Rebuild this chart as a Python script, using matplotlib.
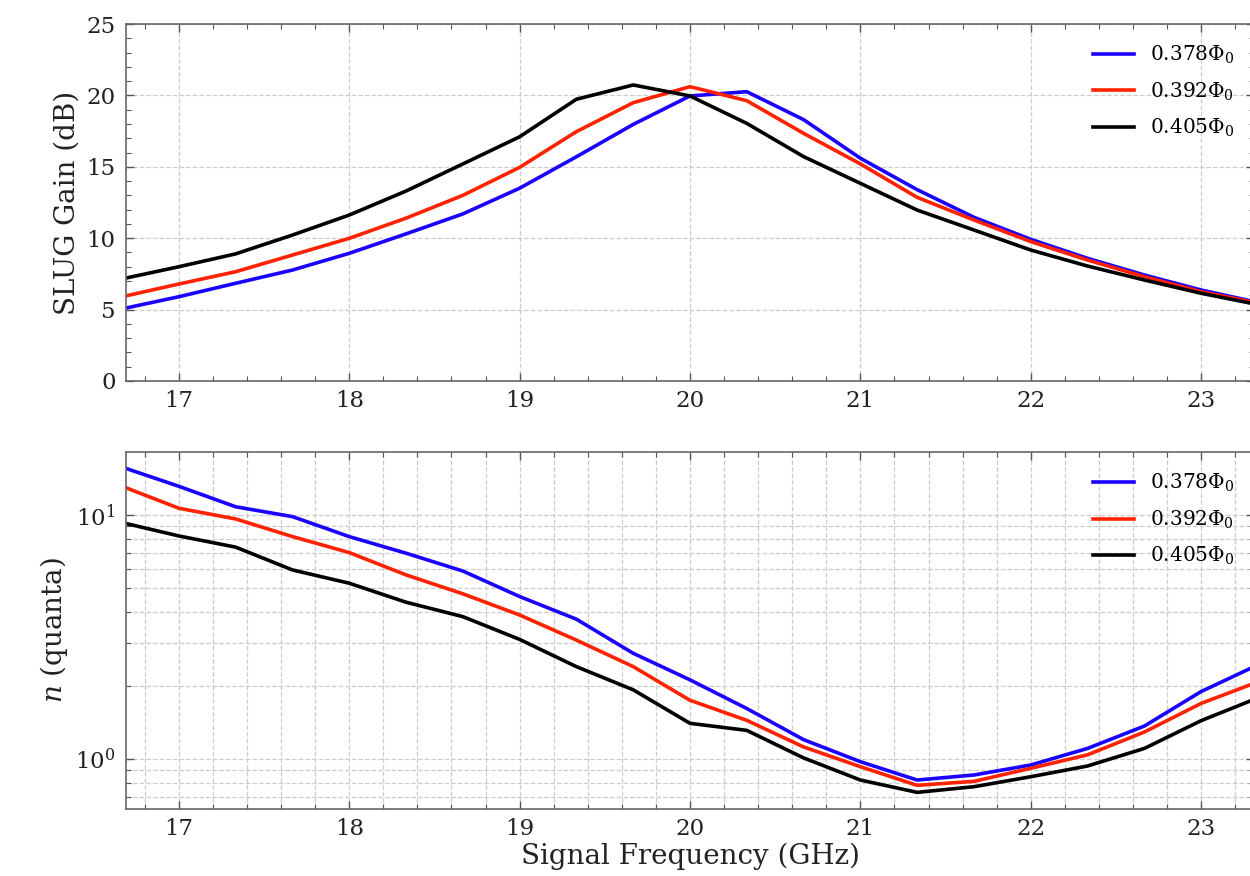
import numpy as np
import matplotlib
matplotlib.use("Agg")
import matplotlib.pyplot as plt
from matplotlib.ticker import MultipleLocator, LogLocator, NullFormatter

plt.rcParams['font.family'] = 'DejaVu Serif'
plt.rcParams['mathtext.fontset'] = 'dejavuserif'
plt.rcParams['font.size'] = 14

# signal frequency (GHz), steps of 1/3 GHz
freq = [16.667, 17.0, 17.333, 17.667, 18.0, 18.333, 18.667, 19.0, 19.333, 19.667, 20.0,
        20.333, 20.667, 21.0, 21.333, 21.667, 22.0, 22.333, 22.667, 23.0, 23.333]

labels = [r'0.378$\Phi_0$', r'0.392$\Phi_0$', r'0.405$\Phi_0$']
colors = ['#1a00ff', '#ff2200', 'black']

# SLUG gain (dB)
gain_378 = [5.05, 5.9, 6.84, 7.77, 8.94, 10.3, 11.7, 13.5, 15.7, 17.97, 19.96,
            20.26, 18.3, 15.6, 13.4, 11.46, 9.92, 8.59, 7.42, 6.37, 5.5]
gain_392 = [5.9, 6.79, 7.65, 8.82, 9.99, 11.4, 13.0, 14.96, 17.46, 19.49, 20.61,
            19.63, 17.34, 15.2, 12.86, 11.27, 9.76, 8.47, 7.3, 6.25, 5.45]
gain_405 = [7.15, 8.0, 8.9, 10.22, 11.62, 13.3, 15.2, 17.1, 19.73, 20.73, 19.96,
            18.04, 15.71, 13.84, 11.97, 10.57, 9.17, 8.05, 7.07, 6.14, 5.35]

# added noise n (quanta)
n_378 = [15.7, 13.1, 10.8, 9.84, 8.15, 6.97, 5.89, 4.63, 3.74, 2.71, 2.11,
         1.61, 1.2, 0.975, 0.82, 0.86, 0.945, 1.105, 1.365, 1.89, 2.43]
n_392 = [13.1, 10.65, 9.63, 8.15, 7.01, 5.68, 4.75, 3.89, 3.07, 2.39, 1.74,
         1.44, 1.12, 0.93, 0.78, 0.81, 0.916, 1.04, 1.29, 1.69, 2.07]
n_405 = [9.3, 8.2, 7.38, 5.95, 5.25, 4.39, 3.83, 3.09, 2.39, 1.92, 1.40,
         1.31, 1.01, 0.82, 0.73, 0.77, 0.846, 0.936, 1.105, 1.436, 1.78]

gains = [gain_378, gain_392, gain_405]
noises = [n_378, n_392, n_405]

fig = plt.figure(figsize=(12.5, 8.76), dpi=100)
ax1 = fig.add_axes([0.1008, 0.5651, 0.9024, 0.4075])
ax2 = fig.add_axes([0.1008, 0.0765, 0.9024, 0.4075])

for g, c, lab in zip(gains, colors, labels):
    ax1.plot(freq, g, color=c, lw=2.6, label=lab)
for n, c, lab in zip(noises, colors, labels):
    ax2.plot(freq, n, color=c, lw=2.6, label=lab)

for ax in (ax1, ax2):
    ax.set_xlim(16.69, 23.31)
    ax.xaxis.set_major_locator(MultipleLocator(1))
    ax.xaxis.set_minor_locator(MultipleLocator(0.2))
    ax.tick_params(which='both', direction='in', top=True, right=True,
                   colors='#555555', labelcolor='#222222', labelsize=16.5)
    ax.tick_params(which='major', length=6, width=1)
    ax.tick_params(which='minor', length=3.5, width=0.8)
    ax.tick_params(axis='x', which='major', pad=6.5)
    ax.tick_params(axis='y', which='major', pad=7.5)
    for s in ax.spines.values():
        s.set_color('#666666')
        s.set_linewidth(1.2)
    ax.legend(loc='upper right', frameon=False, fontsize=14.5,
              handlelength=2.05, handletextpad=0.75, labelspacing=0.7,
              borderaxespad=0.6)

ax1.set_ylim(0, 25)
ax1.yaxis.set_major_locator(MultipleLocator(5))
ax1.yaxis.set_minor_locator(MultipleLocator(1))
ax1.grid(which='major', ls='--', color='#cccccc', lw=0.9)
ax1.set_ylabel('SLUG Gain (dB)', fontsize=20, color='#222222')

ax2.set_yscale('log')
ax2.set_ylim(0.624, 18.1)
ax2.yaxis.set_minor_locator(LogLocator(base=10, subs=np.arange(2, 10)))
ax2.yaxis.set_minor_formatter(NullFormatter())
ax2.grid(which='both', ls='--', color='#cccccc', lw=0.9)
ax2.set_ylabel(r'$n$ (quanta)', fontsize=20, color='#222222')
ax2.set_xlabel('Signal Frequency (GHz)', fontsize=20, color='#222222', labelpad=2)

fig.savefig('out.png', dpi=100)
